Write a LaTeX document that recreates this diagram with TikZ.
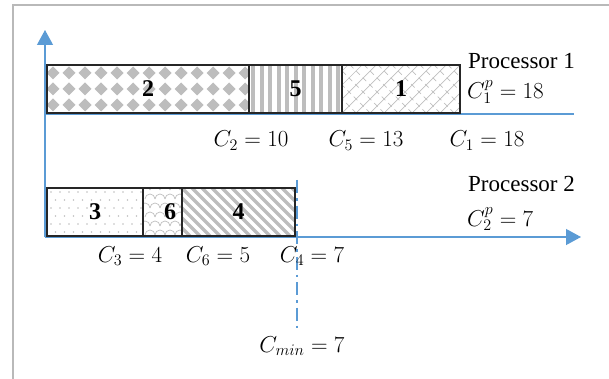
\RequirePackage{fix-cm}
\documentclass[tikz,border=0pt]{standalone}
\usepackage{fontspec}
\setmainfont{Liberation Serif}
\usetikzlibrary{arrows.meta}
\definecolor{axblue}{HTML}{5B9BD5}
\definecolor{pat}{HTML}{BDBDBD}
\begin{document}
\begin{tikzpicture}[x=1pt,y=-1pt,
  task/.style={draw=black!85, line width=2.6pt, inner sep=0pt, outer sep=0pt, anchor=north west,
    minimum height=48pt, font=\fontsize{24}{24}\selectfont\bfseries},
  lbl/.style={inner sep=0pt, anchor=base, font=\fontsize{23}{27}\selectfont},
  axis/.style={draw=axblue, line width=1.2pt},
  hatch/.style={draw=gray!50, line width=0.7pt},
]
\useasboundingbox (0,0) rectangle (609,379);
% frame
\draw[gray!55, line width=1.2pt] (13,379) -- (13,5) -- (609,5);

% axes
\coordinate (o) at (45,237);
\coordinate (ytop) at (45,30);
\coordinate (xend) at (581,237);
\coordinate (p1s) at (45,114);
\coordinate (p1e) at (574,114);
\draw[axis, -{Triangle[length=15pt,width=16pt]}] (o) -- (ytop);
\draw[axis, -{Triangle[length=15pt,width=16pt]}] (o) -- (xend);
\draw[axis] (p1s) -- (p1e);

% patterns
\begin{scope}
\clip (47,65) rectangle (249,113);
\foreach \i in {0,...,12}{\foreach \j in {0,1,2}{
  \fill[pat] ({53+16*\i},{73+16*\j}) +(-6.5,0) -- +(0,-6.5) -- +(6.5,0) -- +(0,6.5) -- cycle;}}
\end{scope}
\begin{scope}
\clip (249,65) rectangle (342,113);
\foreach \i in {0,...,11} \fill[pat] ({251+8.5*\i},65) rectangle ++(4,48);
\end{scope}
\begin{scope}
\clip (342,65) rectangle (460,113);
\foreach \i in {-4,...,9} \draw[hatch] ({342+14*\i},113) -- ++(48,-48);
\foreach \i in {0,...,13} \draw[hatch, dash pattern=on 5pt off 4pt] ({342+14*\i},113) -- ++(-48,-48);
\end{scope}
\begin{scope}
\clip (47,188) rectangle (143,236);
\foreach \i in {0,...,10}{\foreach \j in {0,...,5}{
  \fill[gray!50] ({51+9*\i+4.5*mod(\j,2)},{192+8*\j}) circle (0.9);}}
\end{scope}
\begin{scope}
\clip (143,188) rectangle (182,236);
\foreach \i in {0,...,4}{\foreach \j in {0,...,5}{
  \draw[hatch] ({140+10*\i+5*mod(\j,2)},{190+9*\j}) arc[start angle=180,end angle=360,radius=5];}}
\end{scope}
\begin{scope}
\clip (182,188) rectangle (295,236);
\foreach \i in {-6,...,12} \draw[pat, line width=3.5pt] ({182+10*\i},188) -- ++(48,48);
\end{scope}

% task boxes
\node[task, minimum width=202pt] (t2) at (47,65) {2};
\node[task, minimum width=93pt] (t5) at (249,65) {5};
\node[task, minimum width=118pt] (t1) at (342,65) {1};
\node[task, minimum width=96pt] (t3) at (47,188) {3};
\node[task, minimum width=39pt] (t6) at (143,188) {\hspace*{15pt}6};
\node[task, minimum width=113pt] (t4) at (182,188) {4};

% Cmin line
\coordinate (d1) at (297,180);
\coordinate (d2) at (297,328);
\draw[axblue, line width=2.5pt, dash pattern=on 13pt off 5pt on 2.5pt off 5pt] (d1) -- (d2);

% labels
\node[lbl] (lc2) at (251,147) {$C_2 = 10$};
\node[lbl] (lc5) at (366,147) {$C_5 = 13$};
\node[lbl] (lc1) at (487,147) {$C_1 = 18$};
\node[lbl, anchor=base west] (lp1) at (468,69) {Processor 1};
\node[lbl, anchor=base west] (lcp1) at (467,99) {$C_1^p = 18$};
\node[lbl, anchor=base west] (lp2) at (468,192) {Processor 2};
\node[lbl, anchor=base west] (lcp2) at (467,226) {$C_2^p = 7$};
\node[lbl] (lc3) at (130,262) {$C_3 = 4$};
\node[lbl] (lc6) at (218,262) {$C_6 = 5$};
\node[lbl] (lc4) at (312,262) {$C_4 = 7$};
\node[lbl] (lcm) at (302,352) {$C_{min} = 7$};
\end{tikzpicture}
\end{document}
